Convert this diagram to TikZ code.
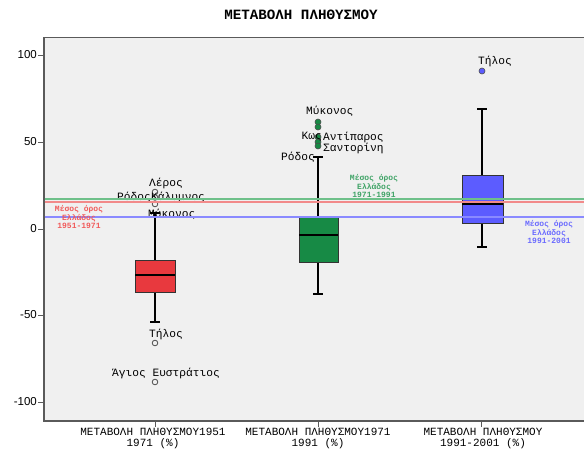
\documentclass[tikz,border=0pt]{standalone}
\usepackage{fontspec}
\setmainfont{Liberation Serif}
\setmonofont{Liberation Mono}
\setsansfont{Liberation Sans}
\definecolor{plotbg}{HTML}{F0F0F0}
\definecolor{axisgray}{HTML}{5A5A5A}
\definecolor{boxred}{HTML}{E8393E}
\definecolor{boxgreen}{HTML}{178A45}
\definecolor{boxblue}{HTML}{5C5CFF}
\definecolor{meangreen}{HTML}{6EC08A}
\definecolor{meanred}{HTML}{F28A8A}
\definecolor{meanblue}{HTML}{8A8AFF}
\definecolor{txtgreen}{HTML}{3FA366}
\definecolor{txtred}{HTML}{F05A5A}
\definecolor{txtblue}{HTML}{6A6AFF}
\begin{document}
\begin{tikzpicture}[x=1pt,y=-1pt,
  lab/.style={font=\ttfamily\fontsize{11.2}{11}\selectfont, inner sep=0pt},
  xlab/.style={font=\ttfamily\fontsize{11}{11}\selectfont, inner sep=0pt, align=center},
  ylab/.style={font=\sffamily\fontsize{11.5}{11}\selectfont, inner sep=0pt, anchor=east},
  meanlab/.style={font=\ttfamily\bfseries\fontsize{8}{7.6}\selectfont, inner sep=0pt, align=center},
  boxrect/.style={draw=black!80, line width=0.8pt},
  whisk/.style={black, line width=1.4pt},
  median/.style={black, line width=2pt},
  meanline/.style={line width=1.8pt},
  openpt/.style={draw=black!70, line width=0.8pt, fill=plotbg},
  tick/.style={axisgray, line width=1pt}]
\useasboundingbox (0,0) rectangle (584,453);
\fill[white] (0,0) rectangle (584,453);
% title
\node[font=\ttfamily\bfseries\fontsize{14.2}{14}\selectfont, inner sep=0pt] (title) at (301,15) {ΜΕΤΑΒΟΛΗ ΠΛΗΘΥΣΜΟΥ};
% plot area
\fill[plotbg] (44,37) rectangle (584,421);
\draw[axisgray, line width=0.8pt] (584,37) -- (44,37);
\draw[axisgray, line width=1.2pt] (44,37) -- (44,421) -- (584,421);
% y ticks
\foreach \v/\yy in {100/55,50/142,0/229,-50/315,-100/402} {
  \draw[tick] (38,\yy) -- (44,\yy);
  \node[ylab] (y\v) at (37,\yy) {\v};
}
% x ticks
\foreach \xx in {155,318,481} { \draw[tick] (\xx,421) -- (\xx,427); }
\node[xlab] (xl1) at (153,438.5) {ΜΕΤΑΒΟΛΗ ΠΛΗΘΥΣΜΟΥ1951\\1971 (\%)};
\node[xlab] (xl2) at (318,438.5) {ΜΕΤΑΒΟΛΗ ΠΛΗΘΥΣΜΟΥ1971\\1991 (\%)};
\node[xlab] (xl3) at (483,438.5) {ΜΕΤΑΒΟΛΗ ΠΛΗΘΥΣΜΟΥ\\1991-2001 (\%)};
% ---- box 1 (red)
\draw[whisk] (155,213) -- (155,260);
\draw[whisk] (150,213) -- (160,213);
\draw[whisk] (155,292) -- (155,322);
\draw[whisk] (150,322) -- (160,322);
\filldraw[boxrect, fill=boxred] (135,260) rectangle (175,292);
\draw[median] (135,275) -- (175,275);
\draw[openpt] (155,192) circle (2.8);
\draw[openpt] (155,197.5) circle (2.8);
\draw[openpt] (155,204) circle (2.8);
\draw[openpt] (155,343) circle (2.8);
\draw[openpt] (155,382) circle (2.8);
\node[lab, anchor=west] (l1a) at (149,183) {Λέρος};
\node[lab, anchor=east] (l1b) at (151,197) {Ρόδος};
\node[lab, anchor=west] (l1c) at (151,197) {Κάλυμνος};
\node[lab, anchor=west] (l1d) at (148,214) {Μύκονος};
\node[lab, anchor=west] (l1e) at (149,334) {Τήλος};
\node[lab, anchor=center] (l1f) at (166,373) {Άγιος Ευστράτιος};
% ---- box 2 (green)
\draw[whisk] (318,157) -- (318,217);
\draw[whisk] (313,157) -- (323,157);
\draw[whisk] (318,262) -- (318,294);
\draw[whisk] (313,294) -- (323,294);
\filldraw[boxrect, fill=boxgreen] (299,217) rectangle (338,262);
\draw[median] (299,235) -- (338,235);
\foreach \yy in {122,127,137,142,146} {
  \filldraw[draw=black!70, line width=0.6pt, fill=boxgreen] (318,\yy) circle (3);
}
\node[lab, anchor=west] (l2a) at (306,111) {Μύκονος};
\node[lab, anchor=east] (l2b) at (322,137) {Κως};
\node[lab, anchor=west] (l2c) at (323,137) {Αντίπαρος};
\node[lab, anchor=west] (l2d) at (323,148) {Σαντορίνη};
\node[lab, anchor=east] (l2e) at (315,157) {Ρόδος};
% ---- box 3 (blue)
\draw[whisk] (482,109) -- (482,175);
\draw[whisk] (477,109) -- (487,109);
\draw[whisk] (482,223) -- (482,247);
\draw[whisk] (477,247) -- (487,247);
\filldraw[boxrect, fill=boxblue] (462,175) rectangle (503,223);
\draw[median] (462,204) -- (503,204);
\filldraw[draw=black!70, line width=0.6pt, fill=boxblue] (482,71) circle (3);
\node[lab, anchor=west] (l3a) at (478,61) {Τήλος};
% ---- mean lines
\draw[meanline, meangreen] (44.6,199) -- (584,199);
\draw[meanline, meanred] (44.6,202) -- (584,202);
\draw[meanline, meanblue] (44.6,217) -- (584,217);
\node[meanlab, txtred] (m1) at (79,217) {Μέσος όρος\\Ελλάδος\\1951-1971};
\node[meanlab, txtgreen] (m2) at (374,186) {Μέσος όρος\\Ελλάδος\\1971-1991};
\node[meanlab, txtblue] (m3) at (549,232) {Μέσος όρος\\Ελλάδος\\1991-2001};
\end{tikzpicture}
\end{document}
